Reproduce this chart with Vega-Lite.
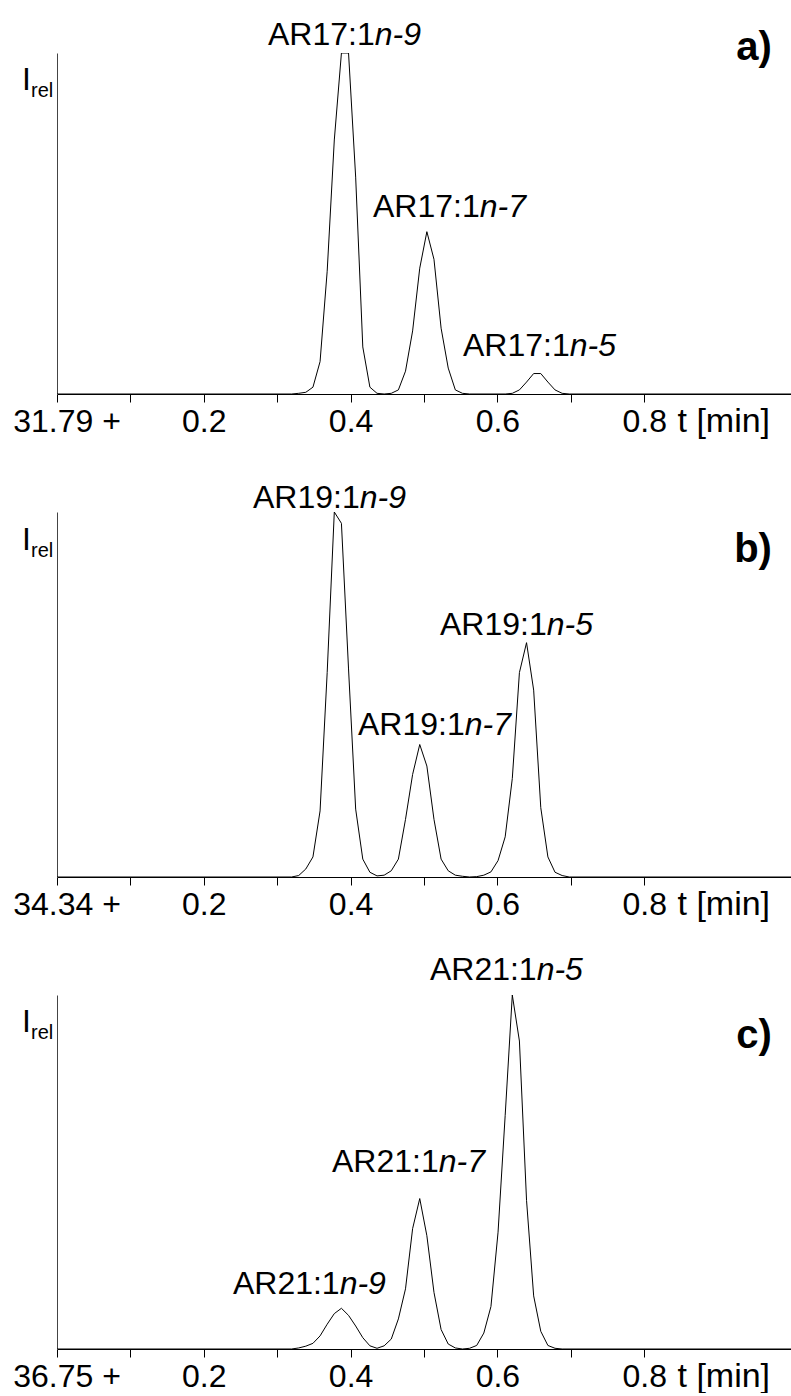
{
  "$schema": "https://vega.github.io/schema/vega-lite/v6.json",
  "padding": {"left": 12, "top": 19, "right": 0, "bottom": 0},
  "background": "white",
  "spacing": 118,
  "bounds": "flush",
  "config": {"view": {"stroke": null}, "font": "Liberation Sans", "text": {"font": "Liberation Sans", "color": "black"}},
  "datasets": {
    "curves": [
      {"panel":"a","t":0,"I":0},{"panel":"a","t":0.3196,"I":0},{"panel":"a","t":0.3293,"I":0.2},{"panel":"a","t":0.339,"I":0.5},{"panel":"a","t":0.3487,"I":2.0},{"panel":"a","t":0.3584,"I":9.5},{"panel":"a","t":0.3681,"I":36},{"panel":"a","t":0.3778,"I":74.5},{"panel":"a","t":0.3875,"I":100},{"panel":"a","t":0.3972,"I":100},{"panel":"a","t":0.4069,"I":63.6},{"panel":"a","t":0.4166,"I":13.8},{"panel":"a","t":0.4263,"I":2.0},{"panel":"a","t":0.436,"I":0.2},{"panel":"a","t":0.4457,"I":0},{"panel":"a","t":0.4554,"I":0.2},{"panel":"a","t":0.4651,"I":1.2},{"panel":"a","t":0.4748,"I":6.7},{"panel":"a","t":0.4845,"I":18.5},{"panel":"a","t":0.4942,"I":36.9},{"panel":"a","t":0.5039,"I":47.6},{"panel":"a","t":0.5136,"I":39.5},{"panel":"a","t":0.5233,"I":19.3},{"panel":"a","t":0.533,"I":7.6},{"panel":"a","t":0.5427,"I":1.2},{"panel":"a","t":0.5524,"I":0.2},{"panel":"a","t":0.5621,"I":0},{"panel":"a","t":0.6106,"I":0},{"panel":"a","t":0.6203,"I":0.2},{"panel":"a","t":0.63,"I":1.2},{"panel":"a","t":0.6397,"I":3.5},{"panel":"a","t":0.6494,"I":6.0},{"panel":"a","t":0.6591,"I":6.0},{"panel":"a","t":0.6688,"I":3.5},{"panel":"a","t":0.6785,"I":1.2},{"panel":"a","t":0.6882,"I":0.2},{"panel":"a","t":0.6979,"I":0},{"panel":"a","t":1,"I":0},
      {"panel":"b","t":0,"I":0},{"panel":"b","t":0.3196,"I":0},{"panel":"b","t":0.3293,"I":0.4},{"panel":"b","t":0.339,"I":2.2},{"panel":"b","t":0.3487,"I":5.5},{"panel":"b","t":0.3584,"I":18.1},{"panel":"b","t":0.3681,"I":56},{"panel":"b","t":0.3778,"I":100},{"panel":"b","t":0.3875,"I":96.9},{"panel":"b","t":0.3972,"I":57},{"panel":"b","t":0.4069,"I":18.6},{"panel":"b","t":0.4166,"I":4.9},{"panel":"b","t":0.4263,"I":1.3},{"panel":"b","t":0.436,"I":0.3},{"panel":"b","t":0.4457,"I":0.5},{"panel":"b","t":0.4554,"I":1.7},{"panel":"b","t":0.4651,"I":4.9},{"panel":"b","t":0.4748,"I":15.8},{"panel":"b","t":0.4845,"I":28.1},{"panel":"b","t":0.4942,"I":36.3},{"panel":"b","t":0.5039,"I":30.4},{"panel":"b","t":0.5136,"I":15.8},{"panel":"b","t":0.5233,"I":4.9},{"panel":"b","t":0.533,"I":1.7},{"panel":"b","t":0.5427,"I":0.5},{"panel":"b","t":0.5524,"I":0.2},{"panel":"b","t":0.5621,"I":0},{"panel":"b","t":0.5718,"I":0.1},{"panel":"b","t":0.5815,"I":0.5},{"panel":"b","t":0.5912,"I":1.4},{"panel":"b","t":0.6009,"I":4.5},{"panel":"b","t":0.6106,"I":11},{"panel":"b","t":0.6203,"I":27},{"panel":"b","t":0.63,"I":56},{"panel":"b","t":0.6397,"I":64.2},{"panel":"b","t":0.6494,"I":51.2},{"panel":"b","t":0.6591,"I":19},{"panel":"b","t":0.6688,"I":5.5},{"panel":"b","t":0.6785,"I":1.3},{"panel":"b","t":0.6882,"I":0.4},{"panel":"b","t":0.6979,"I":0},{"panel":"b","t":1,"I":0},
      {"panel":"c","t":0,"I":0},{"panel":"c","t":0.3196,"I":0},{"panel":"c","t":0.3293,"I":0.3},{"panel":"c","t":0.339,"I":0.8},{"panel":"c","t":0.3487,"I":1.6},{"panel":"c","t":0.3584,"I":3.7},{"panel":"c","t":0.3681,"I":7},{"panel":"c","t":0.3778,"I":10},{"panel":"c","t":0.3875,"I":11.5},{"panel":"c","t":0.3972,"I":9.5},{"panel":"c","t":0.4069,"I":6.5},{"panel":"c","t":0.4166,"I":3.2},{"panel":"c","t":0.4263,"I":0.9},{"panel":"c","t":0.436,"I":0.2},{"panel":"c","t":0.4457,"I":0.9},{"panel":"c","t":0.4554,"I":2.8},{"panel":"c","t":0.4651,"I":8.5},{"panel":"c","t":0.4748,"I":17},{"panel":"c","t":0.4845,"I":34},{"panel":"c","t":0.4942,"I":42.5},{"panel":"c","t":0.5039,"I":32},{"panel":"c","t":0.5136,"I":16},{"panel":"c","t":0.5233,"I":5.5},{"panel":"c","t":0.533,"I":1.4},{"panel":"c","t":0.5427,"I":0.3},{"panel":"c","t":0.5524,"I":0},{"panel":"c","t":0.5621,"I":0.2},{"panel":"c","t":0.5718,"I":1},{"panel":"c","t":0.5815,"I":4.5},{"panel":"c","t":0.5912,"I":12},{"panel":"c","t":0.6009,"I":33},{"panel":"c","t":0.6106,"I":66},{"panel":"c","t":0.6203,"I":100},{"panel":"c","t":0.63,"I":87},{"panel":"c","t":0.6397,"I":42},{"panel":"c","t":0.6494,"I":15},{"panel":"c","t":0.6591,"I":5},{"panel":"c","t":0.6688,"I":1},{"panel":"c","t":0.6785,"I":0.2},{"panel":"c","t":0.6882,"I":0},{"panel":"c","t":1,"I":0}
    ],
    "peaks": [
      {"panel":"a","t":0.4328,"I":102.3,"pre":"AR17:1","suf":"n-9"},
      {"panel":"a","t":0.5759,"I":51.9,"pre":"AR17:1","suf":"n-7"},
      {"panel":"a","t":0.6985,"I":11.1,"pre":"AR17:1","suf":"n-5"},
      {"panel":"b","t":0.4124,"I":101.1,"pre":"AR19:1","suf":"n-9"},
      {"panel":"b","t":0.5555,"I":38.9,"pre":"AR19:1","suf":"n-7"},
      {"panel":"b","t":0.6672,"I":66.3,"pre":"AR19:1","suf":"n-5"},
      {"panel":"c","t":0.6535,"I":104.2,"pre":"AR21:1","suf":"n-5"},
      {"panel":"c","t":0.52,"I":49.9,"pre":"AR21:1","suf":"n-7"},
      {"panel":"c","t":0.3851,"I":15.5,"pre":"AR21:1","suf":"n-9"}
    ],
    "letters": [
      {"panel":"a","t":0.974,"I":97.9,"text":"a)"},
      {"panel":"b","t":0.974,"I":86.3,"text":"b)"},
      {"panel":"c","t":0.974,"I":85.1,"text":"c)"}
    ],
    "irel": [
      {"panel":"a","t":-0.0477,"I":89.1,"ts":-0.0354,"Is":87.1},
      {"panel":"b","t":-0.0477,"I":89.6,"ts":-0.0354,"Is":87.7},
      {"panel":"c","t":-0.0477,"I":89.6,"ts":-0.0354,"Is":87.6}
    ]
  },
  "vconcat": [
    {
      "width": 734, "height": 341,
      "layer": [
        {"data": {"name": "curves"}, "transform": [{"filter": "datum.panel === 'a'"}],
         "mark": {"type": "line", "color": "black", "strokeWidth": 1, "clip": true},
         "encoding": {
           "x": {"field": "t", "type": "quantitative", "scale": {"domain": [0, 1], "nice": false, "zero": false},
                 "axis": {"values": [0, 0.1, 0.2, 0.3, 0.4, 0.5, 0.6, 0.7, 0.8], "labelExpr": "datum.value === 0 ? '31.79 +' : (round(datum.value*10) % 2 === 0 ? format(datum.value, '.1f') : '')", "labelFlush": false, "labelOverlap": false, "labelFont": "Liberation Sans", "labelFontSize": 32, "labelColor": "black", "labelPadding": 4, "labelOffset": {"condition": {"test": "datum.value === 0", "value": 9.5}, "value": 0}, "tickSize": 8, "tickColor": "black", "domainColor": "black", "grid": false, "title": "t [min]", "titleFont": "Liberation Sans", "titleFontSize": 34, "titleFontWeight": "normal", "titleColor": "black", "titleAngle": 0, "titleAlign": "left", "titleBaseline": "alphabetic", "titleX": 620, "titleY": 37}},
           "y": {"field": "I", "type": "quantitative", "scale": {"domain": [0, 100], "nice": false},
                 "axis": {"ticks": false, "labels": false, "grid": false, "title": null, "domainColor": "#444"}}
         }},
        {"data": {"name": "peaks"}, "transform": [{"filter": "datum.panel === 'a'"}],
         "mark": {"type": "text", "align": "right", "baseline": "alphabetic", "fontSize": 32, "font": "Liberation Sans"},
         "encoding": {"x": {"field": "t", "type": "quantitative", "scale": {"domain": [0, 1], "nice": false, "zero": false}}, "y": {"field": "I", "type": "quantitative", "scale": {"domain": [0, 100], "nice": false}}, "text": {"field": "pre"}}},
        {"data": {"name": "peaks"}, "transform": [{"filter": "datum.panel === 'a'"}],
         "mark": {"type": "text", "align": "left", "baseline": "alphabetic", "fontSize": 32, "fontStyle": "italic", "font": "Liberation Sans"},
         "encoding": {"x": {"field": "t", "type": "quantitative", "scale": {"domain": [0, 1], "nice": false, "zero": false}}, "y": {"field": "I", "type": "quantitative", "scale": {"domain": [0, 100], "nice": false}}, "text": {"field": "suf"}}},
        {"data": {"name": "letters"}, "transform": [{"filter": "datum.panel === 'a'"}],
         "mark": {"type": "text", "align": "right", "baseline": "alphabetic", "fontSize": 40, "fontWeight": "bold", "font": "Liberation Sans"},
         "encoding": {"x": {"field": "t", "type": "quantitative", "scale": {"domain": [0, 1], "nice": false, "zero": false}}, "y": {"field": "I", "type": "quantitative", "scale": {"domain": [0, 100], "nice": false}}, "text": {"field": "text"}}},
        {"data": {"name": "irel"}, "transform": [{"filter": "datum.panel === 'a'"}],
         "mark": {"type": "text", "align": "left", "baseline": "alphabetic", "fontSize": 32, "font": "Liberation Sans", "text": "I"},
         "encoding": {"x": {"field": "t", "type": "quantitative", "scale": {"domain": [0, 1], "nice": false, "zero": false}}, "y": {"field": "I", "type": "quantitative", "scale": {"domain": [0, 100], "nice": false}}}},
        {"data": {"name": "irel"}, "transform": [{"filter": "datum.panel === 'a'"}],
         "mark": {"type": "text", "align": "left", "baseline": "alphabetic", "fontSize": 20, "font": "Liberation Sans", "text": "rel"},
         "encoding": {"x": {"field": "ts", "type": "quantitative", "scale": {"domain": [0, 1], "nice": false, "zero": false}}, "y": {"field": "Is", "type": "quantitative", "scale": {"domain": [0, 100], "nice": false}}}}
      ]
    },
    {
      "width": 734, "height": 365,
      "layer": [
        {"data": {"name": "curves"}, "transform": [{"filter": "datum.panel === 'b'"}],
         "mark": {"type": "line", "color": "black", "strokeWidth": 1, "clip": true},
         "encoding": {
           "x": {"field": "t", "type": "quantitative", "scale": {"domain": [0, 1], "nice": false, "zero": false},
                 "axis": {"values": [0, 0.1, 0.2, 0.3, 0.4, 0.5, 0.6, 0.7, 0.8], "labelExpr": "datum.value === 0 ? '34.34 +' : (round(datum.value*10) % 2 === 0 ? format(datum.value, '.1f') : '')", "labelFlush": false, "labelOverlap": false, "labelFont": "Liberation Sans", "labelFontSize": 32, "labelColor": "black", "labelPadding": 4, "labelOffset": {"condition": {"test": "datum.value === 0", "value": 9.5}, "value": 0}, "tickSize": 8, "tickColor": "black", "domainColor": "black", "grid": false, "title": "t [min]", "titleFont": "Liberation Sans", "titleFontSize": 34, "titleFontWeight": "normal", "titleColor": "black", "titleAngle": 0, "titleAlign": "left", "titleBaseline": "alphabetic", "titleX": 620, "titleY": 37}},
           "y": {"field": "I", "type": "quantitative", "scale": {"domain": [0, 100], "nice": false},
                 "axis": {"ticks": false, "labels": false, "grid": false, "title": null, "domainColor": "#444"}}
         }},
        {"data": {"name": "peaks"}, "transform": [{"filter": "datum.panel === 'b'"}],
         "mark": {"type": "text", "align": "right", "baseline": "alphabetic", "fontSize": 32, "font": "Liberation Sans"},
         "encoding": {"x": {"field": "t", "type": "quantitative", "scale": {"domain": [0, 1], "nice": false, "zero": false}}, "y": {"field": "I", "type": "quantitative", "scale": {"domain": [0, 100], "nice": false}}, "text": {"field": "pre"}}},
        {"data": {"name": "peaks"}, "transform": [{"filter": "datum.panel === 'b'"}],
         "mark": {"type": "text", "align": "left", "baseline": "alphabetic", "fontSize": 32, "fontStyle": "italic", "font": "Liberation Sans"},
         "encoding": {"x": {"field": "t", "type": "quantitative", "scale": {"domain": [0, 1], "nice": false, "zero": false}}, "y": {"field": "I", "type": "quantitative", "scale": {"domain": [0, 100], "nice": false}}, "text": {"field": "suf"}}},
        {"data": {"name": "letters"}, "transform": [{"filter": "datum.panel === 'b'"}],
         "mark": {"type": "text", "align": "right", "baseline": "alphabetic", "fontSize": 40, "fontWeight": "bold", "font": "Liberation Sans"},
         "encoding": {"x": {"field": "t", "type": "quantitative", "scale": {"domain": [0, 1], "nice": false, "zero": false}}, "y": {"field": "I", "type": "quantitative", "scale": {"domain": [0, 100], "nice": false}}, "text": {"field": "text"}}},
        {"data": {"name": "irel"}, "transform": [{"filter": "datum.panel === 'b'"}],
         "mark": {"type": "text", "align": "left", "baseline": "alphabetic", "fontSize": 32, "font": "Liberation Sans", "text": "I"},
         "encoding": {"x": {"field": "t", "type": "quantitative", "scale": {"domain": [0, 1], "nice": false, "zero": false}}, "y": {"field": "I", "type": "quantitative", "scale": {"domain": [0, 100], "nice": false}}}},
        {"data": {"name": "irel"}, "transform": [{"filter": "datum.panel === 'b'"}],
         "mark": {"type": "text", "align": "left", "baseline": "alphabetic", "fontSize": 20, "font": "Liberation Sans", "text": "rel"},
         "encoding": {"x": {"field": "ts", "type": "quantitative", "scale": {"domain": [0, 1], "nice": false, "zero": false}}, "y": {"field": "Is", "type": "quantitative", "scale": {"domain": [0, 100], "nice": false}}}}
      ]
    },
    {
      "width": 734, "height": 354,
      "layer": [
        {"data": {"name": "curves"}, "transform": [{"filter": "datum.panel === 'c'"}],
         "mark": {"type": "line", "color": "black", "strokeWidth": 1, "clip": true},
         "encoding": {
           "x": {"field": "t", "type": "quantitative", "scale": {"domain": [0, 1], "nice": false, "zero": false},
                 "axis": {"values": [0, 0.1, 0.2, 0.3, 0.4, 0.5, 0.6, 0.7, 0.8], "labelExpr": "datum.value === 0 ? '36.75 +' : (round(datum.value*10) % 2 === 0 ? format(datum.value, '.1f') : '')", "labelFlush": false, "labelOverlap": false, "labelFont": "Liberation Sans", "labelFontSize": 32, "labelColor": "black", "labelPadding": 4, "labelOffset": {"condition": {"test": "datum.value === 0", "value": 9.5}, "value": 0}, "tickSize": 8, "tickColor": "black", "domainColor": "black", "grid": false, "title": "t [min]", "titleFont": "Liberation Sans", "titleFontSize": 34, "titleFontWeight": "normal", "titleColor": "black", "titleAngle": 0, "titleAlign": "left", "titleBaseline": "alphabetic", "titleX": 620, "titleY": 37}},
           "y": {"field": "I", "type": "quantitative", "scale": {"domain": [0, 100], "nice": false},
                 "axis": {"ticks": false, "labels": false, "grid": false, "title": null, "domainColor": "#444"}}
         }},
        {"data": {"name": "peaks"}, "transform": [{"filter": "datum.panel === 'c'"}],
         "mark": {"type": "text", "align": "right", "baseline": "alphabetic", "fontSize": 32, "font": "Liberation Sans"},
         "encoding": {"x": {"field": "t", "type": "quantitative", "scale": {"domain": [0, 1], "nice": false, "zero": false}}, "y": {"field": "I", "type": "quantitative", "scale": {"domain": [0, 100], "nice": false}}, "text": {"field": "pre"}}},
        {"data": {"name": "peaks"}, "transform": [{"filter": "datum.panel === 'c'"}],
         "mark": {"type": "text", "align": "left", "baseline": "alphabetic", "fontSize": 32, "fontStyle": "italic", "font": "Liberation Sans"},
         "encoding": {"x": {"field": "t", "type": "quantitative", "scale": {"domain": [0, 1], "nice": false, "zero": false}}, "y": {"field": "I", "type": "quantitative", "scale": {"domain": [0, 100], "nice": false}}, "text": {"field": "suf"}}},
        {"data": {"name": "letters"}, "transform": [{"filter": "datum.panel === 'c'"}],
         "mark": {"type": "text", "align": "right", "baseline": "alphabetic", "fontSize": 40, "fontWeight": "bold", "font": "Liberation Sans"},
         "encoding": {"x": {"field": "t", "type": "quantitative", "scale": {"domain": [0, 1], "nice": false, "zero": false}}, "y": {"field": "I", "type": "quantitative", "scale": {"domain": [0, 100], "nice": false}}, "text": {"field": "text"}}},
        {"data": {"name": "irel"}, "transform": [{"filter": "datum.panel === 'c'"}],
         "mark": {"type": "text", "align": "left", "baseline": "alphabetic", "fontSize": 32, "font": "Liberation Sans", "text": "I"},
         "encoding": {"x": {"field": "t", "type": "quantitative", "scale": {"domain": [0, 1], "nice": false, "zero": false}}, "y": {"field": "I", "type": "quantitative", "scale": {"domain": [0, 100], "nice": false}}}},
        {"data": {"name": "irel"}, "transform": [{"filter": "datum.panel === 'c'"}],
         "mark": {"type": "text", "align": "left", "baseline": "alphabetic", "fontSize": 20, "font": "Liberation Sans", "text": "rel"},
         "encoding": {"x": {"field": "ts", "type": "quantitative", "scale": {"domain": [0, 1], "nice": false, "zero": false}}, "y": {"field": "Is", "type": "quantitative", "scale": {"domain": [0, 100], "nice": false}}}}
      ]
    }
  ]
}
